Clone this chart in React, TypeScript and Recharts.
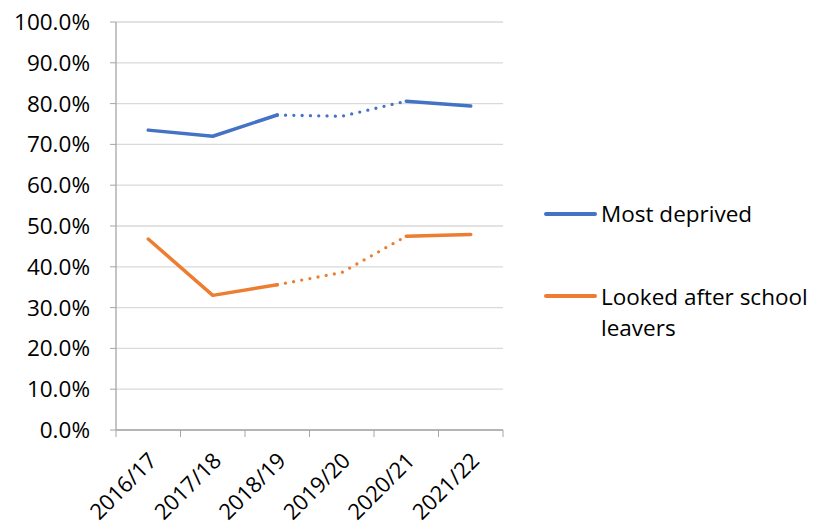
import React from 'react';
import { LineChart, Line, XAxis, YAxis, CartesianGrid, Legend } from 'recharts';

const categories = ['2016/17', '2017/18', '2018/19', '2019/20', '2020/21', '2021/22'];
const mostDeprived = [73.5, 72.0, 77.2, 76.9, 80.6, 79.4];
const lookedAfter = [46.8, 33.0, 35.6, 38.6, 47.5, 47.9];
const yTicks = [0, 10, 20, 30, 40, 50, 60, 70, 80, 90, 100];

const seriesNames = ['Most deprived', 'Looked after school leavers'];
const BLUE = '#4472C4';
const ORANGE = '#ED7D31';
const FONT = '"Open Sans", sans-serif';
const FS = 22.5;

// segment membership: first solid (0-2), dotted (2-4), last solid (4-5)
const inSeg = (i: number, a: number, b: number) => i >= a && i <= b;

const data = categories.map((c, i) => ({
  cat: c,
  depA: inSeg(i, 0, 2) ? mostDeprived[i] : null,
  depB: inSeg(i, 2, 4) ? mostDeprived[i] : null,
  depC: inSeg(i, 4, 5) ? mostDeprived[i] : null,
  laA: inSeg(i, 0, 2) ? lookedAfter[i] : null,
  laB: inSeg(i, 2, 4) ? lookedAfter[i] : null,
  laC: inSeg(i, 4, 5) ? lookedAfter[i] : null,
}));

const PLOT_LEFT = 116;
const PLOT_RIGHT = 503;
const BAND = (PLOT_RIGHT - PLOT_LEFT) / categories.length;

const XTick = (props: any) => {
  const { x, y, payload, index } = props;
  const tx = x + 10;
  const ty = y + 32;
  return (
    <g>
      <line x1={x - BAND / 2} y1={y} x2={x - BAND / 2} y2={y + 7} stroke="#a6a6a6" strokeWidth={1} />
      {index === categories.length - 1 && (
        <line x1={x + BAND / 2} y1={y} x2={x + BAND / 2} y2={y + 7} stroke="#a6a6a6" strokeWidth={1} />
      )}
      <text
        x={tx}
        y={ty}
        textAnchor="end"
        transform={`rotate(-45 ${tx} ${ty})`}
        fontFamily={FONT}
        fontSize={22}
        fill="#000"
      >
        {payload.value}
      </text>
    </g>
  );
};

const renderLegend = () => (
  <div style={{ position: 'relative', width: 276, height: 528, fontFamily: FONT, fontSize: FS, color: '#000', lineHeight: '31px' }}>
    <div style={{ position: 'absolute', left: 1, top: 212, width: 53, height: 4, background: BLUE, borderRadius: 2 }} />
    <div style={{ position: 'absolute', left: 58, top: 197.5, whiteSpace: 'nowrap' }}>{seriesNames[0]}</div>
    <div style={{ position: 'absolute', left: 1, top: 294, width: 53, height: 4, background: ORANGE, borderRadius: 2 }} />
    <div style={{ position: 'absolute', left: 58, top: 280.5, width: 220 }}>{seriesNames[1]}</div>
  </div>
);

const common = { type: 'linear' as const, dot: false, isAnimationActive: false, connectNulls: false, legendType: 'none' as const };

export default function App() {
  return (
    <div style={{ position: 'absolute', left: 0, top: 0 }}>
      <LineChart width={819} height={528} data={data} margin={{ top: 22, right: 316, bottom: 0, left: 0 }}>
        <CartesianGrid vertical={false} stroke="#d9d9d9" strokeWidth={1.3} />
        <XAxis
          dataKey="cat"
          height={98}
          padding={{ left: BAND / 2, right: BAND / 2 }}
          tick={<XTick />}
          tickLine={false}
          tickSize={0}
          tickMargin={0}
          interval={0}
          axisLine={{ stroke: '#a6a6a6', strokeWidth: 1.3 }}
        />
        <YAxis
          width={116}
          domain={[0, 100]}
          ticks={yTicks}
          interval={0}
          tickFormatter={(v: number) => `${v.toFixed(1)}%`}
          tickSize={6}
          tickMargin={20}
          tickLine={{ stroke: '#a6a6a6' }}
          axisLine={{ stroke: '#a6a6a6', strokeWidth: 1.3 }}
          tick={{ fontFamily: FONT, fontSize: FS, fill: '#000' }}
        />
        <Legend
          content={renderLegend}
          layout="horizontal"
          verticalAlign="middle"
          align="center"
          wrapperStyle={{ position: 'absolute', left: 543, top: 0, width: 276, height: 528 }}
        />
        <Line {...common} dataKey="depA" stroke={BLUE} strokeWidth={3.5} strokeLinecap="round" strokeLinejoin="round" />
        <Line {...common} dataKey="depB" stroke={BLUE} strokeWidth={3.3} strokeLinecap="round" strokeDasharray="0 8.3" />
        <Line {...common} dataKey="depC" stroke={BLUE} strokeWidth={3.5} strokeLinecap="round" strokeLinejoin="round" />
        <Line {...common} dataKey="laA" stroke={ORANGE} strokeWidth={3.5} strokeLinecap="round" strokeLinejoin="round" />
        <Line {...common} dataKey="laB" stroke={ORANGE} strokeWidth={3.3} strokeLinecap="round" strokeDasharray="0 8.3" />
        <Line {...common} dataKey="laC" stroke={ORANGE} strokeWidth={3.5} strokeLinecap="round" strokeLinejoin="round" />
      </LineChart>
    </div>
  );
}
